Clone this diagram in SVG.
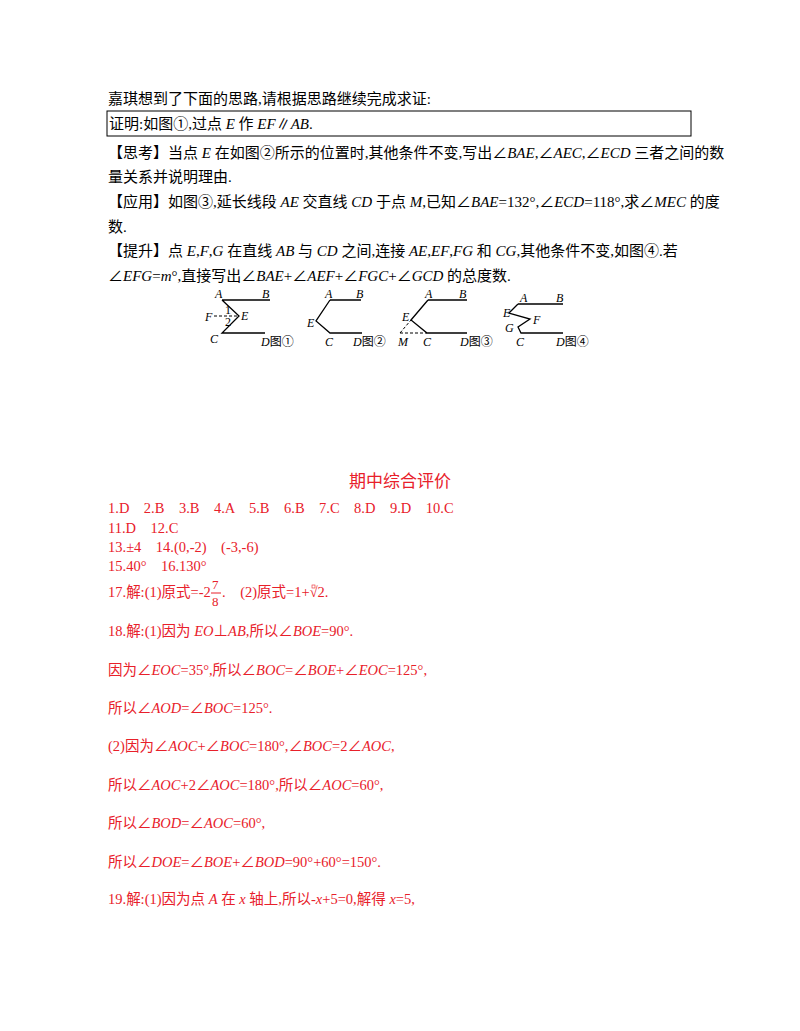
<svg xmlns="http://www.w3.org/2000/svg" width="800" height="1031" viewBox="0 0 800 1031">
<style>
text{font-family:"Liberation Serif","Noto Sans CJK SC",serif;font-size:15px;fill:#000}
.r{fill:#e8202a;font-size:14.5px}
.i{font-style:italic}
.l{stroke:#000;stroke-width:1.3;fill:none}
.d{stroke:#000;stroke-width:1;fill:none;stroke-dasharray:3,2}
.f text{font-size:12px}
</style>
<rect width="800" height="1031" fill="#fff"/>
<g id="problem">
<text x="108" y="104">嘉琪想到了下面的思路,请根据思路继续完成求证:</text>
<rect x="107" y="111" width="584" height="25" fill="none" stroke="#000" stroke-width="1"/>
<text x="109" y="129">证明:如图①,过点 <tspan class="i">E</tspan> 作 <tspan class="i">EF</tspan>∥<tspan class="i">AB</tspan>.</text>
<text x="108" y="158">【思考】当点 <tspan class="i">E</tspan> 在如图②所示的位置时,其他条件不变,写出∠<tspan class="i">BAE</tspan>,∠<tspan class="i">AEC</tspan>,∠<tspan class="i">ECD</tspan> 三者之间的数</text>
<text x="108" y="182">量关系并说明理由.</text>
<text x="108" y="207">【应用】如图③,延长线段 <tspan class="i">AE</tspan> 交直线 <tspan class="i">CD</tspan> 于点 <tspan class="i">M</tspan>,已知∠<tspan class="i">BAE</tspan>=132°,∠<tspan class="i">ECD</tspan>=118°,求∠<tspan class="i">MEC</tspan> 的度</text>
<text x="108" y="232">数.</text>
<text x="108" y="256">【提升】点 <tspan class="i">E</tspan>,<tspan class="i">F</tspan>,<tspan class="i">G</tspan> 在直线 <tspan class="i">AB</tspan> 与 <tspan class="i">CD</tspan> 之间,连接 <tspan class="i">AE</tspan>,<tspan class="i">EF</tspan>,<tspan class="i">FG</tspan> 和 <tspan class="i">CG</tspan>,其他条件不变,如图④.若</text>
<text x="108" y="281">∠<tspan class="i">EFG</tspan>=<tspan class="i">m</tspan>°,直接写出∠<tspan class="i">BAE</tspan>+∠<tspan class="i">AEF</tspan>+∠<tspan class="i">FGC</tspan>+∠<tspan class="i">GCD</tspan> 的总度数.</text>
</g>
<g id="fig1" class="f">
<path class="l" d="M222,300H270M222,300L239,316L222,333H265"/>
<path class="d" d="M214,316H239"/>
<text class="i" x="215" y="298">A</text><text class="i" x="262" y="298">B</text>
<text class="i" x="205" y="321">F</text><text x="225" y="314" font-size="10">1</text><text x="225" y="326" font-size="10">2</text>
<text class="i" x="241" y="320">E</text><text class="i" x="210" y="343">C</text>
<text x="261" y="346"><tspan class="i">D</tspan>图①</text>
</g>
<g id="fig2" class="f">
<path class="l" d="M330,300H361M330,300L316,321L330,333H362"/>
<text class="i" x="325" y="298">A</text><text class="i" x="356" y="298">B</text>
<text class="i" x="307" y="327">E</text><text class="i" x="325" y="346">C</text>
<text x="353" y="346"><tspan class="i">D</tspan>图②</text>
</g>
<g id="fig3" class="f">
<path class="l" d="M428,300H467M428,300L411,320L427,333H467"/>
<path class="d" d="M400,333L411,320M400,333H427"/>
<text class="i" x="425" y="298">A</text><text class="i" x="459" y="298">B</text>
<text class="i" x="402" y="321">E</text><text class="i" x="398" y="346">M</text><text class="i" x="423" y="346">C</text>
<text x="460" y="346"><tspan class="i">D</tspan>图③</text>
</g>
<g id="fig4" class="f">
<path class="l" d="M518,304H563M518,304L509,313L530,319L518,327L521,333H563"/>
<text class="i" x="520" y="302">A</text><text class="i" x="556" y="302">B</text>
<text class="i" x="503" y="317">E</text><text class="i" x="533" y="324">F</text><text class="i" x="505" y="332">G</text>
<text class="i" x="516" y="346">C</text>
<text x="556" y="346"><tspan class="i">D</tspan>图④</text>
</g>
<g id="answers">
<text class="r" x="400" y="487" text-anchor="middle" font-size="17" style="font-size:17px">期中综合评价</text>
<text class="r" x="108" y="513" xml:space="preserve">1.D    2.B    3.B    4.A    5.B    6.B    7.C    8.D    9.D    10.C</text>
<text class="r" x="108" y="533" xml:space="preserve">11.D    12.C</text>
<text class="r" x="108" y="552" xml:space="preserve">13.±4    14.(0,-2)    (-3,-6)</text>
<text class="r" x="108" y="571" xml:space="preserve">15.40°    16.130°</text>
<text class="r" x="108" y="597">17.解:(1)原式=-2</text>
<text class="r" x="212" y="589" style="font-size:13px">7</text>
<line x1="211" y1="593" x2="221" y2="593" stroke="#e8202a" stroke-width="1"/>
<text class="r" x="212" y="606" style="font-size:13px">8</text>
<text class="r" x="222" y="597" xml:space="preserve">.    (2)原式=1+√2.</text>
<rect x="312" y="585" width="3" height="3" fill="none" stroke="#e8202a" stroke-width="0.6"/>
<text class="r" x="108" y="636">18.解:(1)因为 <tspan class="i">EO</tspan>⊥<tspan class="i">AB</tspan>,所以∠<tspan class="i">BOE</tspan>=90°.</text>
<text class="r" x="108" y="675">因为∠<tspan class="i">EOC</tspan>=35°,所以∠<tspan class="i">BOC</tspan>=∠<tspan class="i">BOE</tspan>+∠<tspan class="i">EOC</tspan>=125°,</text>
<text class="r" x="108" y="713">所以∠<tspan class="i">AOD</tspan>=∠<tspan class="i">BOC</tspan>=125°.</text>
<text class="r" x="108" y="751">(2)因为∠<tspan class="i">AOC</tspan>+∠<tspan class="i">BOC</tspan>=180°,∠<tspan class="i">BOC</tspan>=2∠<tspan class="i">AOC</tspan>,</text>
<text class="r" x="108" y="790">所以∠<tspan class="i">AOC</tspan>+2∠<tspan class="i">AOC</tspan>=180°,所以∠<tspan class="i">AOC</tspan>=60°,</text>
<text class="r" x="108" y="828">所以∠<tspan class="i">BOD</tspan>=∠<tspan class="i">AOC</tspan>=60°,</text>
<text class="r" x="108" y="867">所以∠<tspan class="i">DOE</tspan>=∠<tspan class="i">BOE</tspan>+∠<tspan class="i">BOD</tspan>=90°+60°=150°.</text>
<text class="r" x="108" y="904">19.解:(1)因为点 <tspan class="i">A</tspan> 在 <tspan class="i">x</tspan> 轴上,所以-<tspan class="i">x</tspan>+5=0,解得 <tspan class="i">x</tspan>=5,</text>
</g>
</svg>
